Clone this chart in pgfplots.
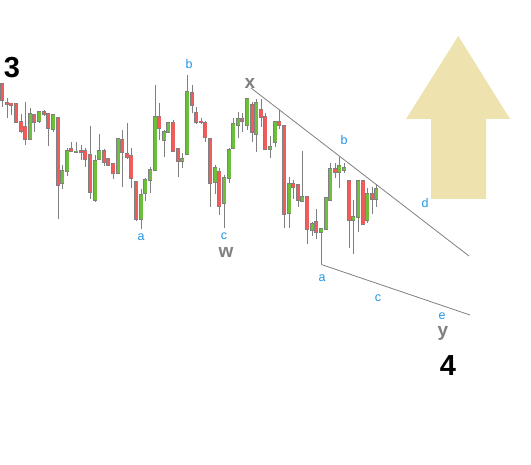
\documentclass[border=0pt]{standalone}
\usepackage{fontspec}
\setmainfont{Liberation Sans}
\usepackage{pgfplots}
\usepackage{pgfplotstable}
\pgfplotsset{compat=1.18}

\definecolor{cgray}{RGB}{128,128,128}
\definecolor{cred}{RGB}{238,92,92}
\definecolor{cgreen}{RGB}{108,190,60}
\definecolor{cblue}{RGB}{30,150,230}
\definecolor{ckhaki}{RGB}{238,226,174}

% candles in image units: x, body top, body bottom, high, low
\pgfplotstableread{
x top bot hi lo
2.3 84 100 83 107
7.3 103 104 98 118
11.3 103.5 105 103 115
16.3 104 122 103 123
21.3 122 131 114 133
25.3 127 139 102 145
34.3 115 122 115 132
44.3 112 114 110 116
48.3 114 128 114 146
58.3 118 185 118 219
71.3 149 151 142 152
81.3 151 152 145 160
85.3 151 159 148 167
90.3 155 192 126 199
104.3 151 162 149 166
108.3 159 165 159 166
113.3 164 173 164 179
122.3 140 152 130 187
127.3 154 157 123 159
131.3 156 178 148 188
136.3 182 219 182 221
159.3 117 128 103 140
173.3 123 151 120 151
178.3 149 161 149 177
192.3 93 105 85 113
196.3 113 122 107 124
201.3 121.5 122.5 118 124
205.3 123 137 121 142
210.3 139 183 139 207
219.3 172 206 168 215
242.3 119 121 113 132
252.3 105 132 102 142
261.3 110 117 99 127
265.3 117 149 113 149
279.3 122 125 110 129
284.3 126 214 126 228
293.3 184 187 180 199
298.3 185 200 185 207
307.3 197 229 197 244
316.3 222 232 209 239
335.3 169 172 163 178
349.3 181 220 181 248
363.3 181 224 181 224
372.3 194 199 187 214
}\redcandles

\pgfplotstableread{
x top bot hi lo
30.3 114 139 108 139
39.3 112 121 111 123
53.3 115 129 115 132
62.3 171 183 165 189
67.3 151 171 148 176
76.3 151.5 152.5 142 153
95.3 161 200 155 202
99.3 151 159 134 159
118.3 139 173 138 173
141.3 195 219 189 229
145.3 180 193 178 201
150.3 170 180 167 193
155.3 117 170 85 170
164.3 132 140 130 157
168.3 123 132 122 133
182.3 159 161 153 168
187.3 92 154 75 154
215.3 168 182 165 194
224.3 178 203 175 228
229.3 150 178 148 183
233.3 124 148 118 148
238.3 119 125 112 138
247.3 99 125 99 130
256.3 103 134 99 152
270.3 147 149 136 158
275.3 122 142 122 147
289.3 184 213 177 228
302.3 197 201 151 201
312.3 224 230 222 236
321.3 229 232 229 264
326.3 198 229 198 229
330.3 169 200 163 200
339.3 166 172 157 188
344.3 168 170 163 173
353.3 217 220 200 254
358.3 181 217 181 232
367.3 194 220 188 223
376.3 189 199 184 207
}\greencandles

\pgfplotsset{
  wick/.style={mark=none, draw=none,
    error bars/y dir=plus, error bars/y explicit, error bars/error mark=none,
    error bars/error bar style={draw=cgray, line width=1.1pt}},
  body/.style={mark=none, draw=none,
    error bars/y dir=plus, error bars/y explicit, error bars/error mark=none,
    error bars/error bar style={draw=#1, line width=2.5pt}},
  bodyedge/.style={mark=none, draw=none,
    error bars/y dir=plus, error bars/y explicit, error bars/error mark=none,
    error bars/error bar style={draw=cgray, line width=4pt}},
}

\begin{document}
\begin{tikzpicture}
\begin{axis}[
    scale only axis,
    width=531pt, height=465pt,
    xmin=0, xmax=531, ymin=0, ymax=465,
    y dir=reverse,
    hide axis,
    clip=true,
]
\fill[white] (axis cs:0,0) rectangle (axis cs:531,465);

% arrow
\addplot[fill=ckhaki, draw=none] coordinates {
    (431,199) (431,119) (406,119) (458.3,36) (510,119) (486,119) (486,199)
} -- cycle;

% trend lines
\addplot[cgray, line width=0.8pt] coordinates {(251,88) (469,256)};
\addplot[cgray, line width=0.8pt] coordinates {(321.3,264.5) (470,315)};

% wicks
\addplot[wick] table[x=x, y=hi, y error expr=\thisrow{lo}-\thisrow{hi}] {\redcandles};
\addplot[wick] table[x=x, y=hi, y error expr=\thisrow{lo}-\thisrow{hi}] {\greencandles};

% bodies
\addplot[bodyedge] table[x=x, y expr=\thisrow{top}-0.8, y error expr=\thisrow{bot}-\thisrow{top}+1.6] {\redcandles};
\addplot[bodyedge] table[x=x, y expr=\thisrow{top}-0.8, y error expr=\thisrow{bot}-\thisrow{top}+1.6] {\greencandles};
\addplot[body=cred] table[x=x, y=top, y error expr=\thisrow{bot}-\thisrow{top}] {\redcandles};
\addplot[body=cgreen] table[x=x, y=top, y error expr=\thisrow{bot}-\thisrow{top}] {\greencandles};

% wave labels
\node[font=\bfseries\fontsize{29}{29}\selectfont] at (axis cs:12,68) {3};
\node[font=\bfseries\fontsize{29}{29}\selectfont] at (axis cs:448,366) {4};
\node[text=cgray, font=\bfseries\fontsize{19}{19}\selectfont] at (axis cs:250,83) {x};
\node[text=cgray, font=\bfseries\fontsize{19}{19}\selectfont] at (axis cs:226,252) {w};
\node[text=cgray, font=\bfseries\fontsize{19}{19}\selectfont] at (axis cs:443,333) {y};
\node[text=cblue, font=\fontsize{12.5}{12.5}\selectfont] at (axis cs:141,237) {a};
\node[text=cblue, font=\fontsize{12.5}{12.5}\selectfont] at (axis cs:189,64) {b};
\node[text=cblue, font=\fontsize{12.5}{12.5}\selectfont] at (axis cs:224,236) {c};
\node[text=cblue, font=\fontsize{12.5}{12.5}\selectfont] at (axis cs:322,278) {a};
\node[text=cblue, font=\fontsize{12.5}{12.5}\selectfont] at (axis cs:344,140) {b};
\node[text=cblue, font=\fontsize{12.5}{12.5}\selectfont] at (axis cs:378,298) {c};
\node[text=cblue, font=\fontsize{12.5}{12.5}\selectfont] at (axis cs:425,203) {d};
\node[text=cblue, font=\fontsize{12.5}{12.5}\selectfont] at (axis cs:442,316) {e};
\end{axis}
\end{tikzpicture}
\end{document}
